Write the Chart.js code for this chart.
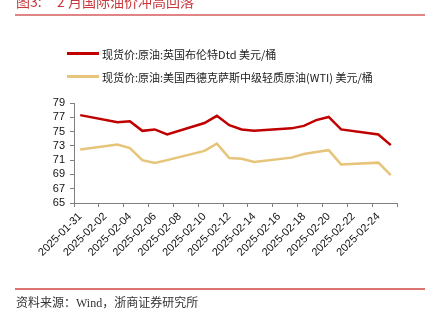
<!DOCTYPE html>
<html>
<head>
<meta charset="utf-8">
<script src="https://cdn.jsdelivr.net/npm/chart.js@4/dist/chart.umd.min.js"></script>
<style>
    html, body { margin: 0; padding: 0; background: #fff; }
    body { width: 430px; height: 322px; position: relative; overflow: hidden; }
    .abs { position: absolute; white-space: pre; }
    #title { color: #c8383c; font: 14px "Noto Sans CJK SC", sans-serif; line-height: 14px; top: -6px; }
    .rule { position: absolute; left: 15px; width: 410px; height: 2px; background: #df8585; }
    .legend-line { position: absolute; left: 67px; width: 32px; height: 3px; }
    .legend-text { position: absolute; left: 102px; font: 11px "Noto Sans CJK SC", sans-serif; line-height: 14px; color: #222; }
    #source { left: 16px; top: 295px; font: 12px "Liberation Serif", "Noto Sans CJK SC", serif; line-height: 16px; color: #333; }
    #chart { position: absolute; left: 0; top: 0; }
</style>
</head>
<body>
<canvas id="chart" width="430" height="322"></canvas>
<div class="abs" id="title" style="left:16px">图3:</div>
<div class="abs" id="title2" style="left:57px;color:#c8383c;font:14px 'Noto Sans CJK SC',sans-serif;line-height:14px;top:-6px">2 月国际油价冲高回落</div>
<div class="rule" style="top:14px"></div>
<div id="legend"></div>
<div class="rule" style="top:288px;height:1.5px;background:#dc7474"></div>
<div class="abs" id="source">资料来源：Wind，浙商证券研究所</div>
<script>
document.addEventListener('DOMContentLoaded', () => {

    // every calendar day on the axis; weekends have no price
    const dates = [
        '2025-01-31', '2025-02-01', '2025-02-02', '2025-02-03', '2025-02-04', '2025-02-05',
        '2025-02-06', '2025-02-07', '2025-02-08', '2025-02-09', '2025-02-10', '2025-02-11',
        '2025-02-12', '2025-02-13', '2025-02-14', '2025-02-15', '2025-02-16', '2025-02-17',
        '2025-02-18', '2025-02-19', '2025-02-20', '2025-02-21', '2025-02-22', '2025-02-23',
        '2025-02-24', '2025-02-25'
    ];
    const brent = [
        77.3, null, null, 76.3, 76.45, 75.1,
        75.3, 74.6, null, null, 76.2, 77.2,
        75.9, 75.3, 75.1, null, null, 75.45,
        75.8, 76.6, 77.05, 75.3, null, null,
        74.6, 73.1
    ];
    const wti = [
        72.5, null, null, 73.2, 72.7, 71.0,
        70.6, 71.0, null, null, 72.3, 73.3,
        71.3, 71.2, 70.75, null, null, 71.35,
        71.85, 72.15, 72.4, 70.4, null, null,
        70.65, 68.9
    ];
    const seriesNames = [
        '现货价:原油:英国布伦特Dtd 美元/桶',
        '现货价:原油:美国西德克萨斯中级轻质原油(WTI) 美元/桶'
    ];
    const seriesColors = ['#c00000', '#e6c47a'];

    const yTicks = [65, 67, 69, 71, 73, 75, 77, 79];

    // html legend
    const legendEl = document.getElementById('legend');
    const legendY = [52, 75];
    seriesNames.forEach((name, i) => {
        const line = document.createElement('div');
        line.className = 'legend-line';
        line.style.top = legendY[i] + 'px';
        line.style.background = seriesColors[i];
        const txt = document.createElement('div');
        txt.className = 'legend-text';
        txt.style.top = (legendY[i] - 5.5) + 'px';
        txt.textContent = name;
        legendEl.appendChild(line);
        legendEl.appendChild(txt);
    });

    const axisColor = '#7f7f7f';
    const tickFont = { family: 'Liberation Sans', size: 11 };

    const ctx = document.getElementById('chart').getContext('2d');
    new Chart(ctx, {
        type: 'line',
        data: {
            labels: dates,
            datasets: [
                { label: seriesNames[0], data: brent, borderColor: seriesColors[0], borderWidth: 2.5 },
                { label: seriesNames[1], data: wti, borderColor: seriesColors[1], borderWidth: 2.5 }
            ]
        },
        options: {
            responsive: false,
            animation: false,
            spanGaps: true,
            elements: { point: { radius: 0 }, line: { tension: 0 } },
            layout: { padding: { top: 103, right: 33, left: 0, bottom: 0 } },
            plugins: {
                legend: { display: false },
                tooltip: { enabled: false }
            },
            scales: {
                x: {
                    offset: true,
                    afterFit: (s) => { s.height = 119; },
                    border: { color: axisColor, width: 1 },
                    grid: {
                        offset: true,
                        drawOnChartArea: false,
                        tickLength: 4,
                        color: (c) => (c.index === undefined || c.index % 2 === 0) ? axisColor : 'rgba(0,0,0,0)'
                    },
                    ticks: {
                        autoSkip: false,
                        maxRotation: 45,
                        minRotation: 45,
                        padding: 3,
                        color: '#111',
                        font: tickFont,
                        callback: (v, i) => i % 2 === 0 ? dates[i] : ''
                    }
                },
                y: {
                    min: yTicks[0],
                    max: yTicks[yTicks.length - 1],
                    afterFit: (s) => { s.width = 74; },
                    afterBuildTicks: (s) => { s.ticks = yTicks.map(v => ({ value: v })); },
                    border: { color: axisColor, width: 1 },
                    grid: { drawOnChartArea: false, tickLength: 4, color: axisColor },
                    ticks: { autoSkip: false, padding: 5, color: '#111', font: tickFont }
                }
            }
        }
    });
});
</script>
</body>
</html>
